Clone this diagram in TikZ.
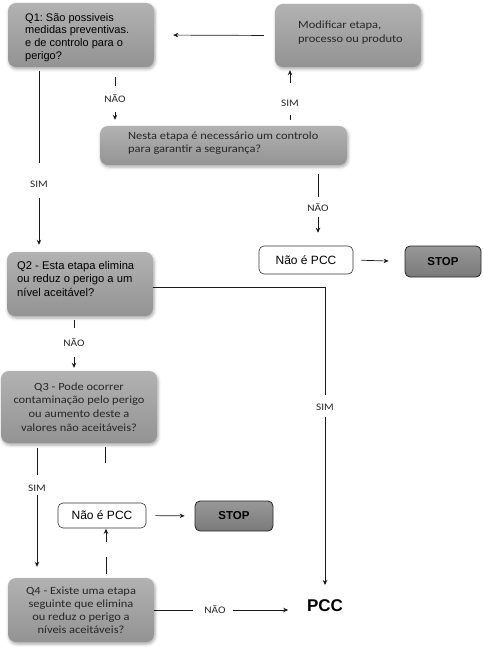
\documentclass[tikz,border=0pt]{standalone}
\usepackage{fontspec}
\setmainfont{Liberation Sans}
\newfontfamily\calib[FakeStretch=1.13]{Carlito}
\usetikzlibrary{arrows.meta,shadows.blur,calc}
\definecolor{gtop}{HTML}{B2B2B2}
\definecolor{gbot}{HTML}{939393}
\definecolor{stop}{HTML}{8C8C8C}
\definecolor{stopb}{HTML}{7A7A7A}
\newcommand\myqf{\fontsize{11}{12.7}\selectfont}
\newcommand\myqfb{\fontsize{11.2}{13.5}\selectfont}
\newcommand\mycf{\calib\fontsize{11}{13.6}\selectfont}
\frenchspacing
\begin{document}
\begin{tikzpicture}[x=1pt,y=-1pt,
  gbox/.style={rounded corners=8pt, top color=gtop, bottom color=gbot, inner sep=0pt,
    blur shadow={shadow xshift=1pt, shadow yshift=-2pt, shadow opacity=35, shadow blur radius=3pt}},
  wbox/.style={rounded corners=5pt, draw=black!80, fill=white, line width=0.6pt, inner sep=0pt,
    font=\fontsize{12}{14}\selectfont},
  sbox/.style={rounded corners=5pt, draw=black!85, top color=stop!90!white, bottom color=stopb,
    line width=0.8pt, inner sep=0pt, font=\bfseries\fontsize{11.5}{13}\selectfont},
  txt/.style={inner sep=0pt, anchor=north west, align=left},
  lab/.style={inner sep=0pt, font=\calib\fontsize{10}{12}\selectfont, text=black!85},
  ln/.style={line width=0.7pt, draw=black!90},
  arr/.style={ln, -{Stealth[length=5pt,width=4.5pt]}}]
\useasboundingbox (0,0) rectangle (482,663);

% boxes
\node[gbox, minimum width=146pt, minimum height=64pt] (q1) at (81,35) {};
\node[txt, font=\myqf] (q1t) at (25,13) {Q1: São possiveis\\medidas preventivas.\\e de controlo para o\\perigo?};
\node[gbox, minimum width=146pt, minimum height=63pt] (mod) at (348,35.5) {};
\node[txt, font=\mycf, text=black!85] (modt) at (298,21) {Modificar etapa,\\[0.5pt]processo ou produto};
\node[gbox, minimum width=247pt, minimum height=39pt] (nesta) at (223.5,145.5) {};
\node[txt, font=\calib\fontsize{11}{12.6}\selectfont, text=black!85] (nestat) at (128,132)
  {Nesta etapa é necessário um controlo\\para garantir a segurança?};
\node[gbox, minimum width=146pt, minimum height=64pt] (q2) at (80,284) {};
\node[txt, font=\myqfb] (q2t) at (17,261) {Q2 - Esta etapa elimina\\ou reduz o perigo a um\\nível aceitável?};
\node[gbox, minimum width=156pt, minimum height=72pt, align=center, font=\calib\fontsize{11}{13.7}\selectfont, text=black!85] (q3) at (79,407)
  {Q3 - Pode ocorrer\\contaminação pelo perigo\\ou aumento deste a\\valores não aceitáveis?};
\node[gbox, minimum width=146pt, minimum height=64pt, align=center, font=\calib\fontsize{11}{13}\selectfont, text=black!85] (q4) at (81,610)
  {Q4 - Existe uma etapa\\seguinte que elimina\\ou reduz o perigo a\\níveis aceitáveis?};
\node[wbox, minimum width=94pt, minimum height=28pt] (np1) at (306,260) {Não é PCC};
\node[wbox, minimum width=88pt, minimum height=25pt] (np2) at (102,515.5) {Não é PCC};
\node[sbox, minimum width=76pt, minimum height=31pt] (stop1) at (443,261.5) {STOP};
\node[sbox, minimum width=78pt, minimum height=30pt] (stop2) at (234,516) {STOP};
\node[inner sep=0pt, font=\bfseries\fontsize{17}{20}\selectfont] (pcc) at (325,606) {PCC};

% labels
\node[lab] (l1) at (115,99) {NÃO};
\node[lab] (l2) at (290,103) {SIM};
\node[lab] (l3) at (39,184) {SIM};
\node[lab] (l4) at (318,208) {NÃO};
\node[lab] (l5) at (325,407) {SIM};
\node[lab] (l6) at (74,343) {NÃO};
\node[lab] (l7) at (37,488) {SIM};
\node[lab] (l8) at (215,610) {NÃO};

% connectors
\draw[arr, shorten <=11pt, shorten >=19pt] (mod.west) -- (q1.east);
\draw[ln] ($(q1.south -| l1)+(0,10)$) -- ++(0,9);
\draw[arr] ($(nesta.north -| l1)+(0,-14)$) -- ++(0,8);
\draw[ln] ($(nesta.north -| l2)+(0,-6)$) -- ++(0,-5);
\draw[arr] ($(mod.south -| l2)+(0,16)$) -- ++(0,-13);
\draw[ln] ($(q1.south -| l3)+(0,4)$) -- ++(0,92);
\draw[arr] ($(q2.north -| l3)+(0,-54)$) -- ++(0,47);
\draw[ln] ($(nesta.south -| l4)+(0,9)$) -- ++(0,23);
\draw[arr] ($(np1.north -| l4)+(0,-29)$) -- ++(0,16);
\draw[arr, shorten <=8pt, shorten >=16pt] (np1.east) -- (stop1.west);
\draw[ln] ($(q2.east)+(0,3)$) -| ($(l5)+(0,-12)$);
\draw[arr] ($(l5)+(0,10)$) -- ++(0,168);
\draw[ln] ($(q2.south -| l6)+(0,4)$) -- ++(0,8);
\draw[arr] ($(q3.north -| l6)+(0,-14)$) -- ++(0,11);
\draw[ln] ($(q3.south -| l7)+(0,5)$) -- ++(0,27);
\draw[arr] ($(q4.north -| l7)+(0,-83)$) -- ++(0,72);
\draw[ln] ($(q3.south)+(26,4)$) -- ++(0,16);
\draw[ln] ($(q4.north)+(25,-4)$) -- ++(0,-17);
\draw[arr] ($(q4.north)+(25,-36)$) -- ++(0,-13);
\draw[arr, shorten <=9pt, shorten >=10pt] (np2.east) -- (stop2.west);
\draw[ln] (q4.east) -- ++(39,0);
\draw[arr] ($(q4.east)+(79,0)$) -- ++(55,0);
\end{tikzpicture}
\end{document}
